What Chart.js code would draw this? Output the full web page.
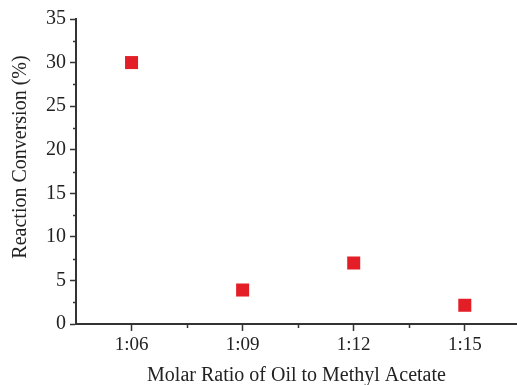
<!DOCTYPE html>
<html>
<head>
<meta charset="utf-8">
<script src="https://cdn.jsdelivr.net/npm/chart.js@4"></script>
<style>
html,body{margin:0;padding:0;background:#fff;}
#wrap{width:517px;height:385px;}
</style>
</head>
<body>
<div id="wrap"><canvas id="c" width="517" height="385"></canvas></div>
<script>
const categories = ["1:06", "1:09", "1:12", "1:15"];
const conversion = [30.0, 3.9, 7.0, 2.15];
const yTicks = [0, 5, 10, 15, 20, 25, 30, 35];
const yMinorTicks = [2.5, 7.5, 12.5, 17.5, 22.5, 27.5, 32.5];
const xMinorTicks = [1.5, 2.5, 3.5];
const xTitle = 'Molar Ratio of Oil to Methyl Acetate';
const yTitle = 'Reaction Conversion (%)';

const axisColor = '#333333';
const family = '"Liberation Serif", "Times New Roman", serif';

const extras = {
  id: 'extras',
  afterDraw(chart) {
    const {ctx, scales: {x, y}, chartArea} = chart;
    ctx.save();
    ctx.strokeStyle = axisColor;
    ctx.lineWidth = 1.5;
    yMinorTicks.forEach(v => {
      const py = Math.round(y.getPixelForValue(v)) + 0.5;
      ctx.beginPath();
      ctx.moveTo(chartArea.left - 3, py);
      ctx.lineTo(chartArea.left, py);
      ctx.stroke();
    });
    xMinorTicks.forEach(v => {
      const px = Math.round(x.getPixelForValue(v)) + 0.5;
      ctx.beginPath();
      ctx.moveTo(px, chartArea.bottom);
      ctx.lineTo(px, chartArea.bottom + 4);
      ctx.stroke();
    });
    // y axis title
    ctx.fillStyle = '#222';
    ctx.font = '20px ' + family;
    ctx.textAlign = 'center';
    ctx.textBaseline = 'middle';
    ctx.translate(21, 157);
    ctx.rotate(-Math.PI / 2);
    ctx.fillText(yTitle, 0, 0);
    ctx.restore();
  }
};

new Chart(document.getElementById('c'), {
  type: 'scatter',
  data: {
    datasets: [{
      data: categories.map((c, i) => ({x: i + 1, y: conversion[i]})),
      pointStyle: 'rect',
      pointRadius: 9.2,
      pointHoverRadius: 9.2,
      pointBorderWidth: 0,
      backgroundColor: '#e31e26',
      borderColor: '#e31e26'
    }]
  },
  options: {
    responsive: false,
    animation: false,
    events: [],
    layout: {autoPadding: false, padding: {top: 19, right: 0, left: 0, bottom: 0}},
    plugins: {legend: {display: false}, tooltip: {enabled: false}},
    scales: {
      x: {
        type: 'linear',
        min: 0.5,
        max: 4.47,
        afterBuildTicks: s => { s.ticks = categories.map((c, i) => ({value: i + 1})); },
        afterFit: s => { s.height = 61; },
        ticks: {
          color: '#222',
          font: {family: family, size: 19},
          padding: 3,
          maxRotation: 0,
          autoSkip: false,
          callback: (v) => categories[Math.round(v) - 1]
        },
        grid: {drawOnChartArea: false, tickLength: 7, tickColor: axisColor, tickWidth: 1.5},
        border: {display: true, color: axisColor, width: 2},
        title: {
          display: true,
          text: xTitle,
          color: '#222',
          font: {family: family, size: 20},
          padding: {top: 0, bottom: -3}
        }
      },
      y: {
        min: 0,
        max: 35,
        afterBuildTicks: s => { s.ticks = yTicks.map(v => ({value: v})); },
        afterFit: s => { s.width = 76; },
        ticks: {
          color: '#222',
          font: {family: family, size: 20},
          padding: 4
        },
        grid: {drawOnChartArea: false, tickLength: 6, tickColor: axisColor, tickWidth: 1.5},
        border: {display: true, color: axisColor, width: 2}
      }
    }
  },
  plugins: [extras]
});
</script>
</body>
</html>
